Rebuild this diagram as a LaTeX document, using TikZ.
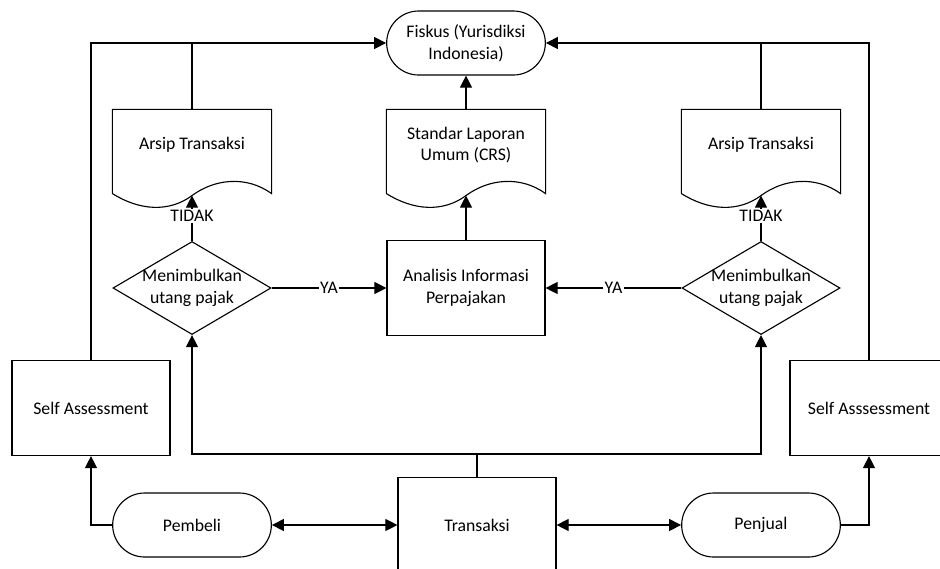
\documentclass[tikz,border=0pt]{standalone}
\usepackage{fontspec}
\setmainfont{Carlito}
\usetikzlibrary{shapes.geometric,shapes.misc,arrows.meta,calc}

\tikzset{
  box/.style={draw, rectangle, minimum width=3.95cm, minimum height=2.375cm, align=center},
  term/.style={draw, rounded rectangle, minimum width=4.2cm, minimum height=1.6cm, align=center},
  doc/.style={rectangle, minimum width=3.95cm, minimum height=1.75cm, align=center},
  cek/.style={draw, diamond, aspect=1.7, inner sep=-8pt, minimum width=3.95cm, minimum height=2.325cm, align=center},
  lbl/.style={fill=white, inner sep=1pt},
  >={Triangle[length=0.3cm,width=0.3cm]},
}

\newcommand{\docoutline}[1]{%
  \draw ($(#1.south west)+(0,13)$) -- (#1.north west) -- (#1.north east) -- ($(#1.south east)+(0,13)$)
    .. controls +(-25,-18) and +(23,-17) .. ($(#1.south)+(0,15)$) coordinate (#1-w)
    .. controls +(-23,17) and +(27,17) .. ($(#1.south west)+(0,13)$);
}

\begin{document}
\begin{tikzpicture}[x=0.025cm, y=-0.025cm, line width=0.8pt, font=\fontsize{12.6}{15.5}\selectfont]
  \useasboundingbox (0,0) rectangle (940,568);

  \node[term] (fiskus) at (466,43) {Fiskus (Yurisdiksi\\Indonesia)};

  \node[doc] (arsipL) at (192,145) {Arsip Transaksi};
  \node[doc] (std) at (466,145) {Standar Laporan\\Umum (CRS)};
  \node[doc] (arsipR) at (761,145) {Arsip Transaksi};
  \docoutline{arsipL}
  \docoutline{std}
  \docoutline{arsipR}

  \node[cek] (cekL) at (192,288) {Menimbulkan\\utang pajak};
  \node[box] (anl) at (466,288) {Analisis Informasi\\Perpajakan};
  \node[cek] (cekR) at (761,288) {Menimbulkan\\utang pajak};

  \node[box] (saL) at (91,408) {Self Assessment};
  \node[box] (saR) at (869,408) {Self Asssessment};

  \node[term] (pembeli) at (192,525) {Pembeli};
  \node[box] (trx) at (477,525) {Transaksi};
  \node[term] (penjual) at (761,525) {Penjual};
  \coordinate (cabang) at (477,454);

  \draw[->] (saL.north) |- (fiskus.west);
  \draw (arsipL.north) -- (arsipL.north |- fiskus.west);
  \draw[->] (saR.north) |- (fiskus.east);
  \draw (arsipR.north) -- (arsipR.north |- fiskus.east);
  \draw[->] (std.north) -- (fiskus.south);
  \draw[->] (anl.north) -- (std-w);

  \draw[->] (cekL.north) -- node[lbl, pos=0.55] (tidakL) {TIDAK} (arsipL-w);
  \draw[->] (cekR.north) -- node[lbl, pos=0.55] (tidakR) {TIDAK} (arsipR-w);
  \draw[->] (cekL.east) -- node[lbl] (yaL) {YA} (anl.west);
  \draw[->] (cekR.west) -- node[lbl] (yaR) {YA} (anl.east);

  \draw (trx.north) -- (cabang);
  \draw[->] (cabang) -| (cekL.south);
  \draw[->] (cabang) -| (cekR.south);

  \draw[<->] (pembeli.east) -- (trx.west);
  \draw[<->] (trx.east) -- (penjual.west);
  \draw[->] (pembeli.west) -| (saL.south);
  \draw[->] (penjual.east) -| (saR.south);
\end{tikzpicture}
\end{document}
